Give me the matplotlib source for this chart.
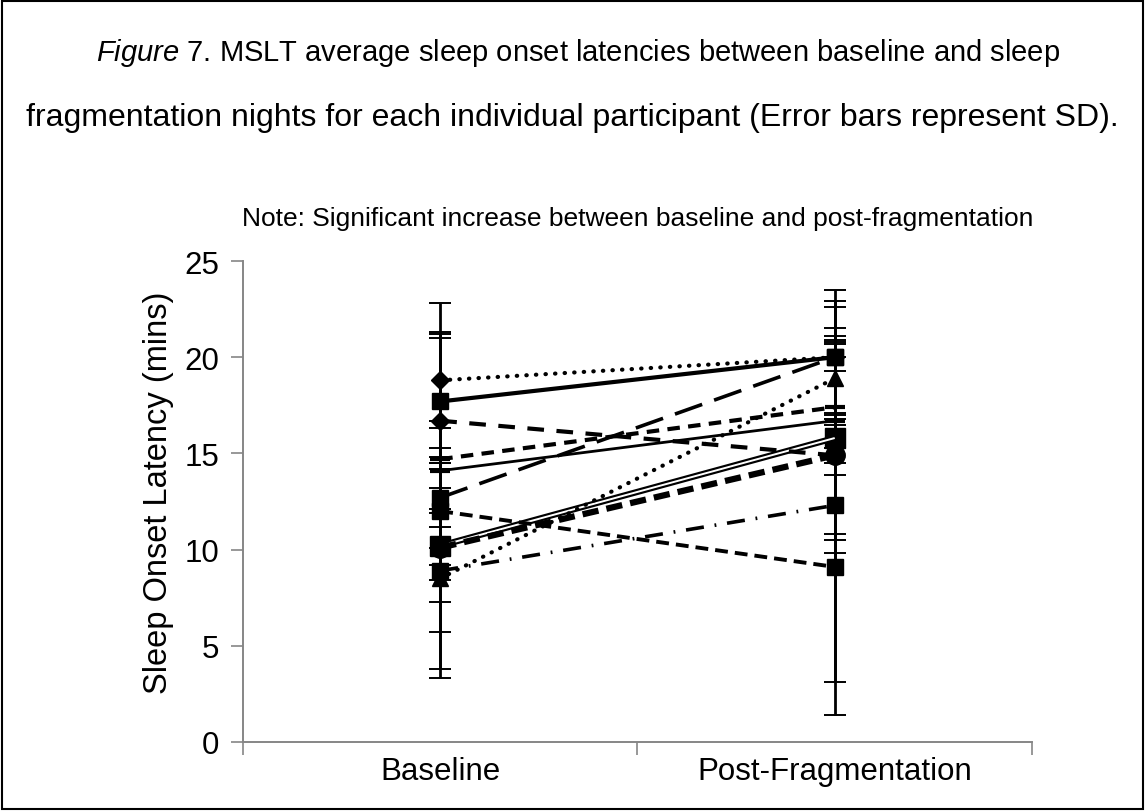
import matplotlib.pyplot as plt
import matplotlib.patches as patches
import numpy as np

plt.rcParams['font.family'] = ['Liberation Sans', 'DejaVu Sans']
plt.rcParams['mathtext.fontset'] = 'custom'
plt.rcParams['mathtext.it'] = 'Liberation Sans:italic'
plt.rcParams['mathtext.rm'] = 'Liberation Sans'

# categories on the x axis
categories = ["Baseline", "Post-Fragmentation"]

# mean sleep onset latency per participant (baseline, post)
p_dotted_diamond = [18.8, 20.0]
p_solid_thick = [17.7, 20.0]
p_mid_dash = [16.7, 14.9]
p_short_dash = [14.7, 17.4]
p_thin_solid = [14.1, 16.7]
p_long_dash = [12.7, 20.0]
p_dash_square = [12.0, 9.1]
p_double = [10.2, 15.8]
p_thick_dash = [10.1, 14.9]
p_dash_dot = [8.9, 12.3]
p_dotted_tri = [8.5, 18.9]

# standard deviations (baseline, post)
sd_dotted_diamond = [4.0, 3.5]
sd_solid_thick = [3.5, 2.9]
sd_mid_dash = [4.6, 0.4]
sd_short_dash = [6.3, 3.5]
sd_thin_solid = [2.2, 5.9]
sd_long_dash = [2.6, 0.7]
sd_dash_square = [4.7, 7.7]
sd_double = [1.0, 5.3]
sd_thick_dash = [4.4, 5.1]
sd_dash_dot = [5.6, 9.2]
sd_dotted_tri = [4.7, 1.9]

fig = plt.figure(figsize=(11.45, 8.12), dpi=100)
ax = fig.add_axes([0.2122, 0.085, 0.6891, 0.5923])

x = np.array([0.5, 1.5])

series = [
    (p_dotted_diamond, sd_dotted_diamond, dict(ls=(0, (0.1, 2.2)), lw=3, marker='D', ms=9, dash_capstyle='round')),
    (p_solid_thick, sd_solid_thick, dict(ls='-', lw=3, marker='s', ms=11)),
    (p_mid_dash, sd_mid_dash, dict(ls=(0, (4, 3)), lw=3, marker='D', ms=9)),
    (p_short_dash, sd_short_dash, dict(ls=(0, (3, 2)), lw=3, marker='_', ms=14, mew=3)),
    (p_thin_solid, sd_thin_solid, dict(ls='-', lw=2, marker='_', ms=14, mew=3)),
    (p_long_dash, sd_long_dash, dict(ls=(0, (8, 3.5)), lw=2.6, marker='s', ms=12)),
    (p_dash_square, sd_dash_square, dict(ls=(0, (3.3, 1.8)), lw=2.8, marker='s', ms=12)),
    (p_thick_dash, sd_thick_dash, dict(ls=(0, (2.6, 1.3)), lw=4.5, marker='o', ms=14)),
    (p_dash_dot, sd_dash_dot, dict(ls=(0, (5, 3, 0.5, 3)), lw=2.6, marker='s', ms=12)),
    (p_dotted_tri, sd_dotted_tri, dict(ls=(0, (0.1, 2.2)), lw=3, marker='^', ms=11, dash_capstyle='round')),
]

for vals, sds, style in series:
    ax.errorbar(x, vals, yerr=sds, fmt='none', ecolor='black', elinewidth=2,
                capsize=8, capthick=1.4, zorder=2)

# double line participant (black outer line, white inner line)
ax.errorbar(x, p_double, yerr=sd_double, fmt='none', ecolor='black', elinewidth=2,
            capsize=8, capthick=1.4, zorder=2)
ax.plot(x, p_double, color='black', lw=4.5, marker='s', ms=14, zorder=3)
ax.plot(x, p_double, color='white', lw=1.4, zorder=3.5, solid_capstyle='butt')

for vals, sds, style in series:
    ax.plot(x, vals, color='black', mfc='black', mec='black', zorder=4, **style)

ax.set_xlim(0, 2)
ax.set_ylim(0, 25)
ax.set_yticks([0, 5, 10, 15, 20, 25])
ax.set_xticks([0, 1, 2])
ax.set_xticklabels([])
ax.set_xticks(x, minor=True)
ax.set_xticklabels(categories, minor=True)
ax.tick_params(axis='x', which='minor', length=0, labelsize=22.5, pad=10)
ax.tick_params(axis='x', which='major', length=9, width=1.2, color='#868686')
ax.tick_params(axis='y', length=9, width=1.2, color='#868686', labelsize=22.5, pad=8)

for s in ['top', 'right']:
    ax.spines[s].set_visible(False)
for s in ['left', 'bottom']:
    ax.spines[s].set_color('#868686')
    ax.spines[s].set_linewidth(1.4)

ax.set_ylabel("Sleep Onset Latency (mins)", fontsize=23.5)
ax.yaxis.set_label_coords(-0.088, 0.52)

# chart title, centred over the plot area
ax.text(0.5, 1.09, "Note: Significant increase between baseline and post-fragmentation",
        transform=ax.transAxes, ha='center', va='center', fontsize=19)

fig.text(0.505, 0.935, r"$\it{Figure}$ 7. MSLT average sleep onset latencies between baseline and sleep",
         ha='center', va='center', fontsize=21)
fig.text(0.5, 0.855, "fragmentation nights for each individual participant (Error bars represent SD).",
         ha='center', va='center', fontsize=23)

fig.add_artist(patches.Rectangle((0.002, 0.002), 0.996, 0.995, transform=fig.transFigure,
                                 fill=False, edgecolor='black', lw=1.5))

fig.savefig("out.png", dpi=100)
